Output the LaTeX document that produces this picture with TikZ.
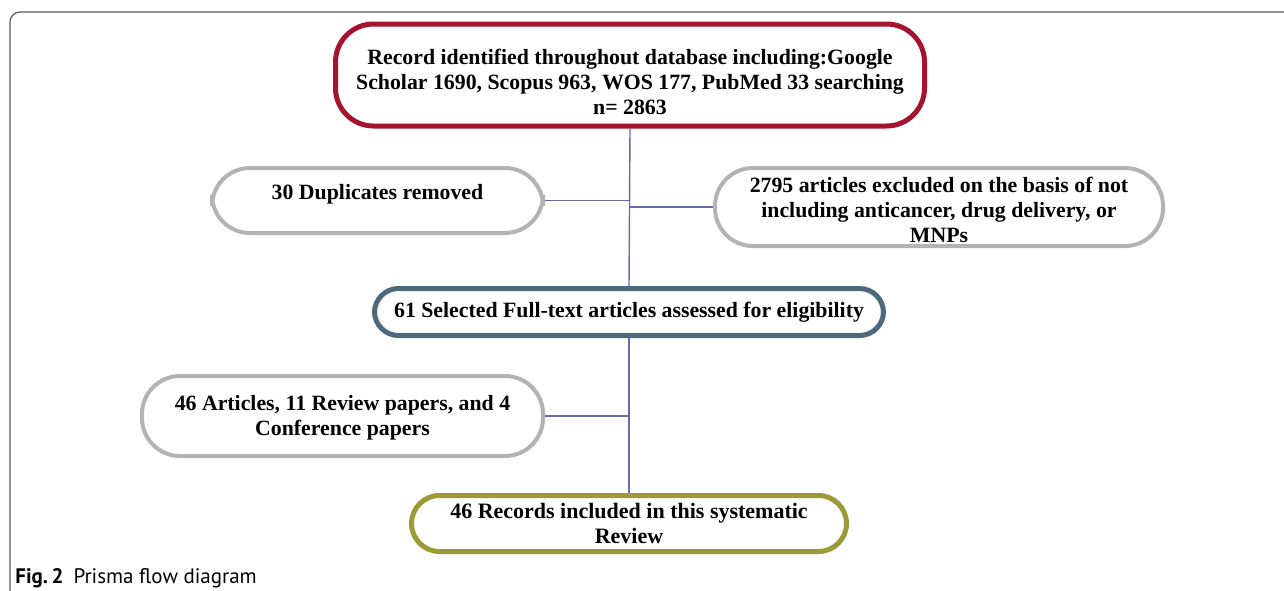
\documentclass[tikz,border=0pt]{standalone}
\usepackage{fontspec}
\setmainfont{Liberation Serif}
\newfontfamily\capfont{PT Sans}
\usetikzlibrary{positioning}
\definecolor{startred}{HTML}{A6132E}
\definecolor{boxgray}{HTML}{B3B3B3}
\definecolor{steelblue}{HTML}{4E687C}
\definecolor{olivegreen}{HTML}{9C9A34}
\definecolor{linkpurple}{HTML}{6A68A8}
\definecolor{framegray}{HTML}{5A5A5A}
% text lines moved up or down inside a box, box size kept
\newcommand{\shiftlines}[2]{\raisebox{#1}[\height][\depth]{\begin{tabular}{@{}c@{}}#2\end{tabular}}}
\tikzset{
    %Define style for boxes
    block/.style={
           rectangle,
           rounded corners=19pt,
           draw=boxgray,
           fill=white,
           line width=2pt,
           inner sep=0pt,
           align=center,
           font=\fontsize{10.9}{12.5}\selectfont\bfseries},
    % Define line style
    link/.style={
           draw=linkpurple,
           line width=0.7pt}
}
\begin{document}
\begin{tikzpicture}[x=0.5pt, y=-0.5pt]
    \useasboundingbox (0,0) rectangle (1284,590);
    \draw[framegray, line width=0.6pt, rounded corners=5pt] (1300,12) -| (10,600);

    \node [block, draw=startred, line width=2.5pt, minimum width=294.5pt, minimum height=51pt] (ident) at (630,75)
        {\shiftlines{-4.5pt}{Record identified throughout database including:Google\\Scholar 1690, Scopus 963, WOS 177, PubMed 33 searching\\n= 2863}};
    \node [block, minimum width=165.5pt, minimum height=32.5pt] (dupl) at (377.5,200.5)
        {\shiftlines{3pt}{30 Duplicates removed}};
    \node [block, minimum width=224pt, minimum height=39pt] (excl) at (939,207)
        {\shiftlines{-2.5pt}{2795 articles excluded on the basis of not\\including anticancer, drug delivery, or\\MNPs}};
    \node [block, draw=steelblue, line width=2.5pt, rounded corners=12pt, minimum width=254.5pt, minimum height=23.5pt] (full) at (629,312)
        {61 Selected Full-text articles assessed for eligibility};
    \node [block, minimum width=200.5pt, minimum height=40pt] (types) at (342.5,416)
        {\shiftlines{-1pt}{46 Articles, 11 Review papers, and 4\\Conference papers}};
    \node [block, draw=olivegreen, line width=2.5pt, rounded corners=14pt, font=\fontsize{11}{12.5}\selectfont\bfseries, minimum width=217.5pt, minimum height=28pt] (incl) at (629,523.5)
        {\shiftlines{-1pt}{46 Records included in this systematic\\Review}};

    \node [anchor=base west, inner sep=0pt, font=\capfont\fontsize{10.5}{12}\selectfont] (caption) at (15,583)
        {\textbf{Fig.\,2}\hspace{5pt}Prisma flow diagram};

    \coordinate (trunk dupl) at (ident.south |- dupl.east);
    \coordinate (trunk excl) at (ident.south |- excl.west);
    \coordinate (trunk types) at (full.south |- types.east);

    \path[link] (ident.south) -- (full.north);
    \path[link] (full.south) -- (incl.north);
    \path[link] (dupl.east) -- (trunk dupl);
    \path[link] (trunk excl) -- (excl.west);
    \path[link] (types.east) -- (trunk types);
\end{tikzpicture}
\end{document}
